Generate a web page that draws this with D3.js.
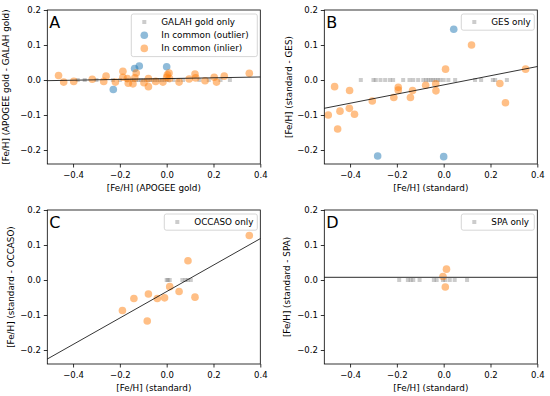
<!DOCTYPE html>
<html>
<head>
<meta charset="UTF-8">
<script src="https://d3js.org/d3.v7.min.js"></script>
<style>
  body { margin: 0; background: #fff; }
  text { font-family: "DejaVu Sans", sans-serif; }
</style>
</head>
<body>
<svg width="550" height="396"></svg>
<script>
// ---- data ----
const xTicks = [-0.4, -0.2, 0.0, 0.2, 0.4];
const yTicks = [-0.2, -0.1, 0.0, 0.1, 0.2];

// A: APOGEE gold vs GALAH gold
const galahInlier = [[-0.462,0.013],[-0.44,-0.006],[-0.397,-0.004],[-0.318,0.002],[-0.269,-0.004],[-0.259,0.011],
  [-0.219,-0.006],[-0.187,0.025],[-0.187,0.008],[-0.168,0.004],[-0.164,-0.009],[-0.144,-0.011],[-0.136,0.006],
  [-0.13,0.02],[-0.097,-0.008],[-0.078,0.004],[-0.078,-0.019],[-0.047,-0.004],[-0.016,-0.006],[0.0,0.008],
  [0.003,0.015],[0.01,0.02],[0.012,0.004],[0.053,-0.006],[0.096,0.003],[0.121,0.017],[0.124,0.006],
  [0.164,-0.002],[0.203,0.008],[0.213,-0.006],[0.246,0.011],[0.353,0.019]];
const galahOutlier = [[-0.228,-0.027],[-0.137,0.033],[-0.117,0.04],[0.0,0.038]];
const galahOnly = [-0.38,-0.35,-0.30,-0.23,-0.20,-0.17,-0.15,-0.14,-0.13,-0.12,-0.11,-0.10,-0.09,-0.08,-0.07,
  -0.06,-0.05,-0.04,-0.03,-0.02,-0.01,0.0,0.01,0.03,0.05,0.07,0.14,0.18,0.23,0.27];

// B: standard vs GES
const gesInlier = [[-0.493,-0.1],[-0.466,-0.019],[-0.453,-0.14],[-0.443,-0.089],[-0.402,-0.03],[-0.403,-0.081],
  [-0.381,-0.098],[-0.305,-0.06],[-0.213,-0.05],[-0.194,-0.021],[-0.194,-0.029],[-0.142,-0.05],[-0.133,-0.03],
  [-0.077,-0.015],[-0.034,-0.011],[-0.033,-0.031],[0.008,0.031],[0.119,0.1],[0.24,-0.01],[0.264,-0.065],[0.35,0.031]];
const gesOutlier = [[0.043,0.145],[-0.282,-0.217],[0.0,-0.219]];
const gesOnly = [-0.354,-0.30,-0.29,-0.27,-0.25,-0.23,-0.216,-0.173,-0.146,-0.13,-0.109,-0.087,-0.075,-0.065,
  -0.055,-0.045,-0.035,-0.025,-0.015,0.0,0.02,0.049,0.134,0.16,0.21,0.22,0.27];

// C: standard vs OCCASO
const occasoInlier = [[-0.189,-0.087],[-0.14,-0.053],[-0.078,-0.04],[-0.083,-0.117],[-0.04,-0.053],[-0.009,-0.051],
  [0.013,-0.019],[0.053,-0.033],[0.091,0.055],[0.121,-0.049],[0.353,0.127]];
const occasoOnly = [0.0,0.005,0.013,0.067,0.08,0.09,0.103];

// D: standard vs SPA
const spaInlier = [[0.012,0.031],[-0.003,0.01],[0.007,-0.02]];
const spaOnly = [-0.19,-0.153,-0.141,-0.13,-0.103,-0.042,-0.03,-0.003,0.007,0.026,0.047,0.1];

// fitted lines: [slope, intercept]
const fitA = [0.0116, 0.004];
const fitB = [0.131, -0.014];
const fitC = [0.378, -0.033];
const fitD = [0.0, 0.0077];

const panels = [
  { letter: "A", left: 47.3, top: 10, inlier: galahInlier, outlier: galahOutlier, only: galahOnly, fit: fitA,
    xlabel: "[Fe/H] (APOGEE gold)", ylabel: "[Fe/H] (APOGEE gold - GALAH gold)", ylabOff: 41,
    legend: ["GALAH gold only", "In common (outlier)", "In common (inlier)"], legW: 126 },
  { letter: "B", left: 324.3, top: 10, inlier: gesInlier, outlier: gesOutlier, only: gesOnly, fit: fitB,
    xlabel: "[Fe/H] (standard)", ylabel: "[Fe/H] (standard - GES)", ylabOff: 35,
    legend: ["GES only"], legW: 73 },
  { letter: "C", left: 47.3, top: 210, inlier: occasoInlier, outlier: [], only: occasoOnly, fit: fitC,
    xlabel: "[Fe/H] (standard)", ylabel: "[Fe/H] (standard - OCCASO)", ylabOff: 36,
    legend: ["OCCASO only"], legW: 93 },
  { letter: "D", left: 324.3, top: 210, inlier: spaInlier, outlier: [], only: spaOnly, fit: fitD, lineColor: "#555",
    xlabel: "[Fe/H] (standard)", ylabel: "[Fe/H] (standard - SPA)", ylabOff: 37,
    legend: ["SPA only"], legW: 73 }
];

const W = 213, H = 154;
const orange = "#ff7f0e", blue = "#1f77b4";
const svg = d3.select("svg");

panels.forEach(p => {
  const x = d3.scaleLinear().domain([-0.51, 0.4]).range([0, W]);
  const y = d3.scaleLinear().domain([-0.24, 0.2]).range([H, 0]);
  const g = svg.append("g").attr("transform", `translate(${p.left},${p.top})`);

  // gray "only" squares at zero
  g.selectAll("rect.only").data(p.only).enter().append("rect")
    .attr("x", d => x(d) - 2).attr("y", y(0) - 2)
    .attr("width", 4).attr("height", 4)
    .attr("fill", "#808080").attr("fill-opacity", 0.4);

  g.selectAll("circle.out").data(p.outlier).enter().append("circle")
    .attr("cx", d => x(d[0])).attr("cy", d => y(d[1])).attr("r", 3.8)
    .attr("fill", blue).attr("fill-opacity", 0.5);

  g.selectAll("circle.in").data(p.inlier).enter().append("circle")
    .attr("cx", d => x(d[0])).attr("cy", d => y(d[1])).attr("r", 3.8)
    .attr("fill", orange).attr("fill-opacity", 0.5);

  // fit line
  const xs = x.domain();
  g.append("line")
    .attr("x1", x(xs[0])).attr("y1", y(p.fit[0] * xs[0] + p.fit[1]))
    .attr("x2", x(xs[1])).attr("y2", y(p.fit[0] * xs[1] + p.fit[1]))
    .attr("stroke", p.lineColor || "#000").attr("stroke-width", p.lineColor ? 1.3 : 0.8);

  // axes
  const xAxis = g.append("g").attr("transform", `translate(0,${H})`)
    .call(d3.axisBottom(x).tickValues(xTicks).tickFormat(d3.format(".1f")).tickSizeOuter(0).tickSize(3.5));
  const yAxis = g.append("g")
    .call(d3.axisLeft(y).tickValues(yTicks).tickFormat(d3.format(".1f")).tickSizeOuter(0).tickSize(3.5));
  [xAxis, yAxis].forEach(a => {
    a.select(".domain").remove();
    a.selectAll("line").attr("stroke", "#000").attr("stroke-width", 0.8);
    a.selectAll("text").attr("font-size", 8.5).attr("fill", "#000")
      .attr("font-family", "DejaVu Sans");
  });
  xAxis.selectAll("text").attr("dy", "0.9em");

  g.append("rect").attr("width", W).attr("height", H)
    .attr("fill", "none").attr("stroke", "#000").attr("stroke-width", 0.8);

  // axis titles
  g.append("text").attr("x", W / 2).attr("y", H + 27)
    .attr("text-anchor", "middle").attr("font-size", 8.8).text(p.xlabel);
  g.append("text")
    .attr("transform", `translate(${-p.ylabOff},${H / 2}) rotate(-90)`)
    .attr("text-anchor", "middle").attr("dy", "0.35em").attr("font-size", 8.8).text(p.ylabel);

  // panel letter
  g.append("text").attr("x", 2).attr("y", 18).attr("font-size", 16).text(p.letter);

  // legend
  const rowH = 13.2;
  const lg = g.append("g").attr("transform", `translate(${W - p.legW - 3},4)`);
  lg.append("rect").attr("width", p.legW).attr("height", p.legend.length * rowH + 3)
    .attr("rx", 2).attr("fill", "#fff").attr("fill-opacity", 0.8)
    .attr("stroke", "#ccc").attr("stroke-width", 0.8);
  const colors = [["#808080", 0.4, "sq"], [blue, 0.5, "c"], [orange, 0.5, "c"]];
  p.legend.forEach((lab, i) => {
    const cy = 8 + i * rowH;
    const c = colors[i];
    if (c[2] === "sq") {
      lg.append("rect").attr("x", 11).attr("y", cy - 2).attr("width", 4).attr("height", 4)
        .attr("fill", c[0]).attr("fill-opacity", c[1]);
    } else {
      lg.append("circle").attr("cx", 13).attr("cy", cy).attr("r", 3.8)
        .attr("fill", c[0]).attr("fill-opacity", c[1]);
    }
    lg.append("text").attr("x", 30).attr("y", cy).attr("dy", "0.35em")
      .attr("font-size", 8.8).text(lab);
  });
});
</script>
</body>
</html>
